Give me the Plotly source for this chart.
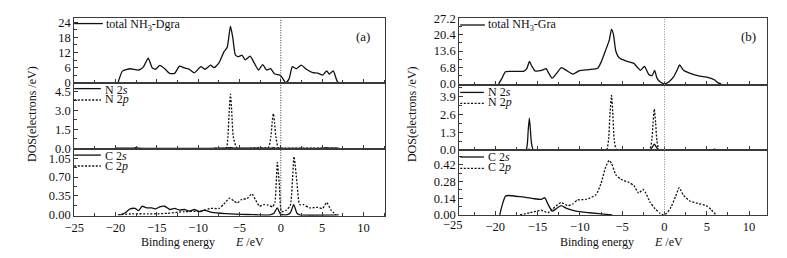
import plotly.graph_objects as go

# ---------------- data ----------------
# panel (a): NH3 on defective graphene
a_total_E = [-19.7, -19.15, -18.23, -17.2, -16.64, -16.04, -15.56, -15.16, -14.64, -14.04, -13.45, -12.85,
             -12.25, -11.66, -11.06, -10.46, -9.66, -9.18, -8.48, -8.08, -7.48, -6.88, -6.48, -6.09, -5.81,
             -5.49, -5.09, -4.7, -4.3, -3.7, -3.22, -2.7, -2.19, -1.71, -1.24, -0.71, -0.11, 0.21, 0.61, 1.0,
             1.4, 1.88, 2.48, 3.08, 3.87, 4.47, 5.07, 5.55, 5.87, 6.35, 6.87, 7.5]
a_total = [0, 4.75, 5.6, 5.1, 6.25, 9.75, 6.0, 5.4, 6.9, 5.6, 3.75, 3.75, 6.6, 5.9, 5.4, 4.0, 6.4, 5.4, 7.0,
           6.0, 7.9, 12.25, 14.1, 22.4, 17.9, 11.0, 10.4, 11.0, 9.1, 10.6, 7.9, 5.1, 7.25, 5.1, 5.6, 3.5, 3.1,
           1.9, 0, 1.6, 6.4, 5.6, 7.0, 5.4, 4.1, 3.9, 3.1, 4.75, 3.5, 4.75, 0.4, 0]

a_N2s_E = [-20.0, -17.8, -17.5, -17.2, -7.0, -6.1, -5.5, -1.2, -0.9, -0.6, 5.2, 5.5, 5.8, 7.0]
a_N2s = [0, 0, 0.05, 0, 0, 0.03, 0, 0, 0.03, 0, 0, 0.04, 0, 0]

a_N2p_E = [-8.0, -6.6, -6.4, -6.25, -6.09, -5.93, -5.75, -5.3, -3.0, -1.5, -1.2, -1.05, -0.9, -0.75,
           -0.6, -0.3, 0.5, 5.0, 7.0]
a_N2p = [0, 0.02, 0.9, 2.8, 4.27, 2.8, 0.9, 0.02, 0.02, 0.05, 0.9, 2.0, 2.72, 2.0, 0.9, 0.03, 0, 0, 0]

a_C2s_E = [-19.42, -18.8, -18.23, -17.63, -17.2, -16.76, -16.24, -15.6, -15.16, -14.64, -14.04, -13.45,
           -12.85, -12.25, -11.66, -11.06, -10.46, -9.86, -9.26, -8.67, -8.08, -7.28, -6.09, -4.9, -3.3,
           -2.7, -1.3, -0.83, -0.43, -0.03, 0.69, 1.16, 1.56, 1.96, 2.28, 7.0]
a_C2s = [0, 0.04, 0.11, 0.12, 0.08, 0.16, 0.13, 0.13, 0.11, 0.15, 0.16, 0.1, 0.12, 0.09, 0.1, 0.07, 0.1,
         0.06, 0.09, 0.06, 0.04, 0.03, 0.02, 0.01, 0.005, 0, 0, 0.03, 0.13, 0.01, 0, 0.04, 0.19, 0.03, 0, 0]

a_C2p_E = [-19.7, -18.0, -16.0, -14.84, -13.65, -11.66, -9.66, -8.48, -7.48, -6.88, -6.21, -5.69, -5.29,
           -4.7, -4.1, -3.5, -3.1, -2.58, -2.1, -1.5, -0.98, -0.71, -0.42, -0.19, 0.09, 0.69, 1.16, 1.6,
           1.96, 2.28, 2.76, 3.47, 4.47, 5.07, 5.55, 6.07, 6.67]
a_C2p = [0, 0.02, 0.02, 0.02, 0.03, 0.06, 0.07, 0.12, 0.12, 0.2, 0.31, 0.26, 0.22, 0.29, 0.3, 0.39, 0.29,
         0.16, 0.19, 0.18, 0.15, 0.23, 0.97, 0.59, 0.06, 0.09, 0.18, 1.08, 0.59, 0.19, 0.19, 0.13, 0.14,
         0.12, 0.23, 0.09, 0]

# panel (b): NH3 on pristine graphene
b_total_E = [-19.59, -19.2, -18.8, -17.83, -16.66, -16.27, -15.96, -15.68, -15.3, -14.52, -14.0, -13.66,
             -13.27, -12.77, -12.18, -11.6, -10.82, -10.04, -8.88, -7.9, -7.5, -7.0, -6.53, -6.26, -6.03,
             -5.75, -5.36, -4.58, -3.61, -3.22, -2.83, -2.37, -1.86, -1.47, -1.16, -0.89, -0.5, 0, 0.5,
             1.09, 1.48, 1.79, 2.26, 3.04, 4.02, 5.19, 5.89, 6.35, 6.7]
b_total = [0, 2.35, 5.0, 5.2, 5.2, 6.3, 9.3, 7.3, 5.4, 5.6, 6.3, 4.3, 2.35, 4.3, 6.7, 5.6, 4.05, 5.5, 5.9,
           6.5, 8.9, 13.5, 18.0, 22.7, 20.4, 13.5, 10.8, 9.5, 8.5, 6.9, 5.6, 7.2, 3.9, 3.4, 5.6, 2.35, 0.8,
           0, 0.8, 3.0, 5.6, 7.8, 5.6, 4.3, 3.3, 2.6, 1.7, 0.4, 0]

b_N2s_E = [-17.0, -16.35, -16.2, -16.1, -15.97, -15.85, -15.72, -15.5, -14.0, -1.7, -1.45, -1.2, -0.95,
           -0.7, 0, 5.5, 5.9, 6.3, 7.0]
b_N2s = [0, 0, 0.5, 1.5, 2.34, 1.5, 0.5, 0, 0, 0, 0.2, 0.42, 0.2, 0, 0, 0, 0.05, 0, 0]

b_N2p_E = [-17.0, -16.3, -16.0, -15.7, -8.0, -6.85, -6.6, -6.45, -6.26, -6.1, -5.95, -5.68, -3.0, -1.75,
           -1.5, -1.35, -1.2, -1.05, -0.9, -0.65, 0, 7.0]
b_N2p = [0, 0, 0.06, 0, 0, 0, 0.8, 2.6, 4.0, 2.6, 0.8, 0.03, 0.03, 0.03, 0.7, 2.0, 3.0, 2.0, 0.7, 0, 0, 0]

b_C2s_E = [-19.47, -19.2, -18.8, -18.44, -17.08, -15.53, -14.55, -14.16, -13.77, -13.27, -12.8, -12.22,
           -11.64, -10.47, -8.88, -6.57, -6.17]
b_C2s = [0, 0.078, 0.156, 0.163, 0.153, 0.137, 0.13, 0.145, 0.091, 0.031, 0.052, 0.078, 0.057, 0.031,
         0.018, 0.003, 0]

b_C2p_E = [-17.08, -15.9, -14.55, -13.77, -13.2, -12.22, -11.44, -10.86, -10.28, -9.3, -8.1, -7.52, -6.94,
           -6.55, -6.24, -5.77, -5.19, -4.22, -3.63, -3.05, -2.55, -2.2, -1.69, -1.11, -0.52, -0.13, 0.26,
           0.77, 1.32, 1.74, 2.2, 2.98, 3.96, 4.93, 5.52, 6.1]
b_C2p = [0, 0.018, 0.039, 0.018, 0.052, 0.104, 0.078, 0.091, 0.125, 0.13, 0.169, 0.26, 0.404, 0.458, 0.43,
         0.339, 0.3, 0.273, 0.247, 0.182, 0.214, 0.182, 0.104, 0.052, 0.013, 0, 0.013, 0.065, 0.156, 0.229,
         0.169, 0.117, 0.096, 0.078, 0.044, 0]

x_tickvals = [-25, -20, -15, -10, -5, 0, 5, 10]
x_title = "Binding energy"
x_unit = "<i>E</i> /eV"
y_title = "DOS(electrons /eV)"
legend_total_a = "total NH<sub>3</sub>-Dgra"
legend_total_b = "total NH<sub>3</sub>-Gra"
legend_N = ["N 2<i>s</i>", "N 2<i>p</i>"]
legend_C = ["C 2<i>s</i>", "C 2<i>p</i>"]
panel_labels = ["(a)", "(b)"]

# ---------------- figure ----------------
W, H = 787, 258
FONT = "Liberation Serif, Times New Roman, serif"
INK = "#111111"
FRAME = "#3a3a3a"
DOT = "2px,1.6px"
LW = 1.3


def px(x):
    return x / W


def py(y):
    return 1 - y / H


fig = go.Figure()


def add(E, v, n, dash=None):
    sfx = "" if n == 1 else str(n)
    fig.add_trace(go.Scatter(
        x=E, y=v, xaxis="x" + sfx, yaxis="y" + sfx, mode="lines",
        line=dict(color=INK, width=LW, dash=dash, shape="spline", smoothing=0.5),
        showlegend=False, hoverinfo="skip"))


add(a_total_E, a_total, 1)
add(a_N2s_E, a_N2s, 2)
add(a_N2p_E, a_N2p, 2, DOT)
add(a_C2s_E, a_C2s, 3)
add(a_C2p_E, a_C2p, 3, DOT)
add(b_total_E, b_total, 4)
add(b_N2s_E, b_N2s, 5)
add(b_N2p_E, b_N2p, 5, DOT)
add(b_C2s_E, b_C2s, 6)
add(b_C2p_E, b_C2p, 6, DOT)

# panel geometry (pixels)
xdom = {1: (65, 380), 2: (65, 380), 3: (65, 380), 4: (455, 766.7), 5: (455, 766.7), 6: (455, 766.7)}
ydom = {1: (13, 81), 2: (81, 151), 3: (151, 221), 4: (12.7, 83), 5: (83, 152), 6: (152, 220)}
xrng = {1: [-25, 12.63], 4: [-24.26, 12.11]}
yrng = {1: [0, 25.5], 2: [-0.1, 5.15], 3: [-0.018, 1.213],
        4: [-0.4, 27.25], 5: [-0.03, 4.78], 6: [0, 0.542]}
ydt = {1: 6, 2: 1.5, 3: 0.35, 4: 6.8, 5: 1.3, 6: 0.14}
yfmt = {1: "d", 2: ".1f", 3: ".2f", 4: ".1f", 5: ".1f", 6: ".2f"}

layout = dict(
    width=W, height=H, margin=dict(l=0, r=0, t=0, b=0),
    paper_bgcolor="white", plot_bgcolor="white",
    font=dict(family=FONT, size=12, color=INK),
    showlegend=False,
)
for n in range(1, 7):
    sfx = "" if n == 1 else str(n)
    x0, x1 = xdom[n]
    y0, y1 = ydom[n]
    bottom = n in (3, 6)
    layout["xaxis" + sfx] = dict(
        domain=[px(x0), px(x1)], range=xrng[1 if n <= 3 else 4], anchor="y" + sfx,
        showline=True, mirror=True, linecolor=FRAME, linewidth=1,
        showgrid=False, zeroline=False,
        ticks="inside", ticklen=4, tickcolor=FRAME, tickvals=x_tickvals,
        minor=dict(ticks="inside", ticklen=3, dtick=2.5, tick0=0, tickcolor=FRAME, showgrid=False),
        showticklabels=bottom, tickfont=dict(family=FONT, size=12.5, color=INK),
    )
    layout["yaxis" + sfx] = dict(
        domain=[py(y1), py(y0)], range=yrng[n], anchor="x" + sfx,
        showline=True, mirror=True, linecolor=FRAME, linewidth=1,
        showgrid=False, zeroline=False,
        ticks="inside", ticklen=4, tickcolor=FRAME, tick0=0, dtick=ydt[n], tickformat=yfmt[n],
        minor=dict(ticks="inside", ticklen=3, dtick=ydt[n] / 2, tick0=0, tickcolor=FRAME, showgrid=False),
        tickfont=dict(family=FONT, size=12.5, color=INK),
    )
fig.update_layout(**layout)

# Fermi level reference lines
fig.add_shape(type="line", xref="x", yref="paper", x0=0, x1=0, y0=py(221), y1=py(13),
              line=dict(color="#333333", width=1, dash="1px,1.5px"))
fig.add_shape(type="line", xref="x4", yref="paper", x0=0, x1=0, y0=py(220), y1=py(12.7),
              line=dict(color="#8a8a8a", width=1, dash="1px,1.5px"))

ann = []


def text(x, y, s, size=12, xanchor="left", yanchor="middle", angle=0):
    ann.append(dict(x=px(x), y=py(y), xref="paper", yref="paper", text=s, showarrow=False,
                    xanchor=xanchor, yanchor=yanchor, textangle=angle,
                    font=dict(family=FONT, size=size, color=INK)))


def sample(x0, x1, y, dash=None):
    fig.add_shape(type="line", xref="paper", yref="paper", x0=px(x0), x1=px(x1), y0=py(y), y1=py(y),
                  line=dict(color=INK, width=LW, dash=dash))


# legends (a)
sample(65, 94, 18.5)
text(95, 19.5, legend_total_a)
sample(65, 92, 87)
text(94, 88, legend_N[0])
sample(65, 92, 99, DOT)
text(94, 98, legend_N[1])
sample(65, 92, 157)
text(94, 158, legend_C[0])
sample(65, 92, 168.5, DOT)
text(94, 168, legend_C[1])
# legends (b)
sample(456, 481, 20)
text(482, 20.5, legend_total_b)
sample(456, 480, 91)
text(482, 91, legend_N[0])
sample(456, 480, 102.5, DOT)
text(482, 101.5, legend_N[1])
sample(456, 480, 159)
text(482, 159, legend_C[0])
sample(456, 480, 171, DOT)
text(482, 170, legend_C[1])

# panel labels
text(357.5, 32, panel_labels[0], size=13, xanchor="center")
text(748, 32, panel_labels[1], size=13, xanchor="center")

# axis titles
text(23, 114, y_title, xanchor="center", angle=-90)
text(407, 114, y_title, xanchor="center", angle=-90)
text(170, 248, x_title, xanchor="center")
text(243, 248, x_unit, xanchor="center")
text(595, 248, x_title, xanchor="center")
text(667, 248, x_unit, xanchor="center")
# the "-25" tick label of panel (b) sits just left of its frame
text(449, 231, "\u221225", size=12.5, xanchor="center")

fig.update_layout(annotations=ann)
fig.write_html("out.html", config={"displayModeBar": False},
               post_script="document.body.style.margin='0';")
